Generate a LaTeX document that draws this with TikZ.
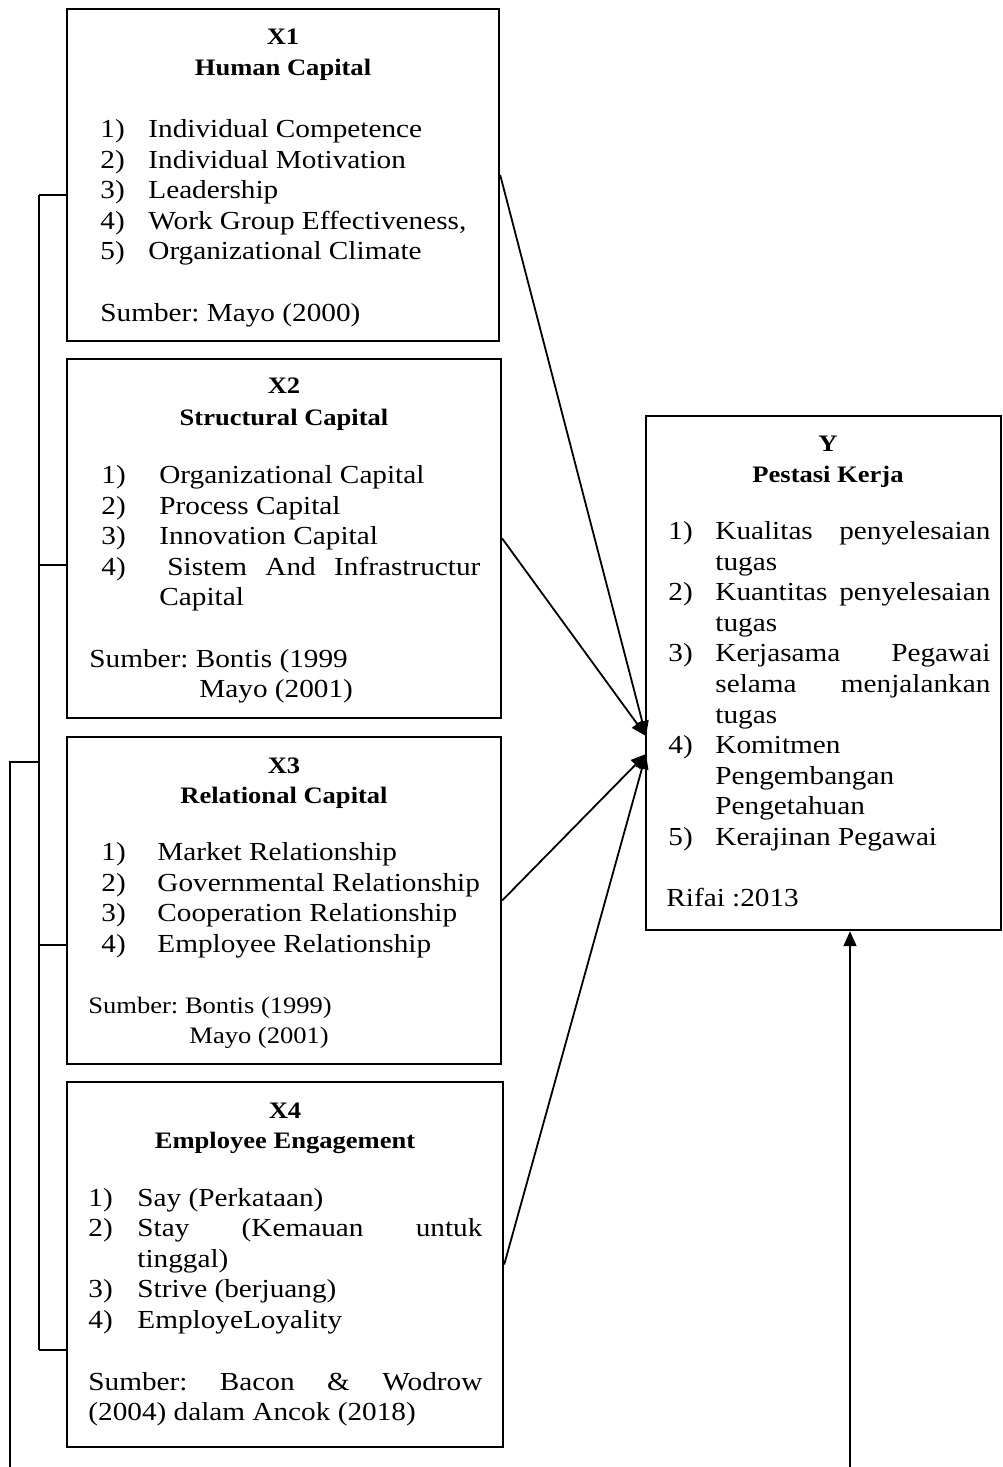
\documentclass[tikz,border=0pt]{standalone}
\usepackage{fontspec}
\setmainfont{Liberation Serif}[FakeStretch=1.125]
\usetikzlibrary{arrows.meta}
\frenchspacing

\tikzset{
  box/.style={rectangle,draw,line width=1.2pt,inner sep=0pt},
  head/.style={anchor=base,inner sep=0pt,font=\fontsize{11.8}{14}\selectfont\bfseries},
  item/.style={anchor=base west,inner sep=0pt,font=\fontsize{13}{15}\selectfont},
  small/.style={anchor=base west,inner sep=0pt,font=\fontsize{11.8}{14}\selectfont},
  link/.style={line width=0.9pt},
  arr/.style={line width=0.9pt,-{Triangle[length=7.5pt,width=6.5pt]}}
}
\newcommand{\nr}[2]{\makebox[#1][l]{#2}}

\begin{document}
\begin{tikzpicture}[x=0.5pt,y=-0.5pt]
\useasboundingbox (0,0) rectangle (1002,1467);

% boxes
\node[box,minimum width=216pt,minimum height=166pt] (x1) at (283,175) {};
\node[box,minimum width=217pt,minimum height=179.5pt] (x2) at (284,538.5) {};
\node[box,minimum width=217pt,minimum height=163.5pt] (x3) at (284,900.5) {};
\node[box,minimum width=218pt,minimum height=182.5pt] (x4) at (285,1264.5) {};
\node[box,minimum width=177.5pt,minimum height=257pt] (y) at (823.5,673) {};

% X1
\node[head] (x1h) at (283,44) {X1};
\node[head] (x1n) at (283,75) {Human Capital};
\node[item] (x1a) at (100,137) {\nr{24pt}{1)}Individual Competence};
\node[item] (x1b) at (100,168) {\nr{24pt}{2)}Individual Motivation};
\node[item] (x1c) at (100,198) {\nr{24pt}{3)}Leadership};
\node[item] (x1d) at (100,229) {\nr{24pt}{4)}Work Group Effectiveness,};
\node[item] (x1e) at (100,259) {\nr{24pt}{5)}Organizational Climate};
\node[item] (x1s) at (100,321) {Sumber: Mayo (2000)};

% X2
\node[head] (x2h) at (284,393) {X2};
\node[head] (x2n) at (284,425) {Structural Capital};
\node[item] (x2a) at (101,483) {\nr{29pt}{1)}Organizational Capital};
\node[item] (x2b) at (101,514) {\nr{29pt}{2)}Process Capital};
\node[item] (x2c) at (101,544) {\nr{29pt}{3)}Innovation Capital};
\node[item] (x2d) at (101,575) {\nr{33pt}{4)}\makebox[156.5pt][s]{Sistem And Infrastructur}};
\node[item] (x2e) at (159,605) {Capital};
\node[item] (x2s) at (89,667) {Sumber: Bontis (1999};
\node[item] (x2m) at (199,697) {Mayo (2001)};

% X3
\node[head] (x3h) at (284,773) {X3};
\node[head] (x3n) at (284,803) {Relational Capital};
\node[item] (x3a) at (101,860) {\nr{28pt}{1)}Market Relationship};
\node[item] (x3b) at (101,891) {\nr{28pt}{2)}Governmental Relationship};
\node[item] (x3c) at (101,921) {\nr{28pt}{3)}Cooperation Relationship};
\node[item] (x3d) at (101,952) {\nr{28pt}{4)}Employee Relationship};
\node[small] (x3s) at (88,1013) {Sumber: Bontis (1999)};
\node[small] (x3m) at (189,1043) {Mayo (2001)};

% X4
\node[head] (x4h) at (285,1118) {X4};
\node[head] (x4n) at (285,1148) {Employee Engagement};
\node[item] (x4a) at (88,1206) {\nr{24.5pt}{1)}Say (Perkataan)};
\node[item] (x4b) at (88,1236) {\nr{24.5pt}{2)}\makebox[172.5pt][s]{Stay (Kemauan untuk}};
\node[item] (x4c) at (137,1267) {tinggal)};
\node[item] (x4d) at (88,1297) {\nr{24.5pt}{3)}Strive (berjuang)};
\node[item] (x4e) at (88,1328) {\nr{24.5pt}{4)}EmployeLoyality};
\node[item] (x4s) at (88,1390) {\makebox[197pt][s]{Sumber: Bacon \& Wodrow}};
\node[item] (x4t) at (88,1420) {(2004) dalam Ancok (2018)};

% Y
\node[head] (yh) at (828,451) {Y};
\node[head] (yn) at (828,482) {Pestasi Kerja};
\node[item] (ya) at (668,539) {\nr{23.5pt}{1)}\makebox[137.5pt][s]{Kualitas penyelesaian}};
\node[item] (ya2) at (715,570) {tugas};
\node[item] (yb) at (668,600) {\nr{23.5pt}{2)}\makebox[137.5pt][s]{Kuantitas penyelesaian}};
\node[item] (yb2) at (715,631) {tugas};
\node[item] (yc) at (668,661) {\nr{23.5pt}{3)}\makebox[137.5pt][s]{Kerjasama Pegawai}};
\node[item] (yc2) at (715,692) {\makebox[137.5pt][s]{selama menjalankan}};
\node[item] (yc3) at (715,723) {tugas};
\node[item] (yd) at (668,753) {\nr{23.5pt}{4)}Komitmen};
\node[item] (yd2) at (715,784) {Pengembangan};
\node[item] (yd3) at (715,814) {Pengetahuan};
\node[item] (ye) at (668,845) {\nr{23.5pt}{5)}Kerajinan Pegawai};
\node[item] (ys) at (666,906) {Rifai :2013};

% left bracket
\coordinate (b1) at (39,195);
\coordinate (b2) at (39,565);
\coordinate (b3) at (39,945);
\coordinate (b4) at (39,1350);
\coordinate (bm) at (39,762);
\coordinate (o1) at (10,762);
\coordinate (o2) at (10,1467);
\draw[link] (b1) -- (b4);
\draw[link] (b1) -- (b1 -| x1.west);
\draw[link] (b2) -- (b2 -| x2.west);
\draw[link] (b3) -- (b3 -| x3.west);
\draw[link] (b4) -- (b4 -| x4.west);
\draw[link] (bm) -- (o1) -- (o2);

% arrows into Y
\coordinate (yin1) at (646,736);
\coordinate (yin2) at (646,754);
\draw[arr] (x1.east) -- (yin1);
\draw[arr] (x2.east) -- (yin1);
\draw[arr] (x3.east) -- (yin2);
\draw[arr] (x4.east) -- (yin2);
\coordinate (ybot) at (850,1467);
\draw[arr] (ybot) -- (ybot |- y.south);
\end{tikzpicture}
\end{document}
